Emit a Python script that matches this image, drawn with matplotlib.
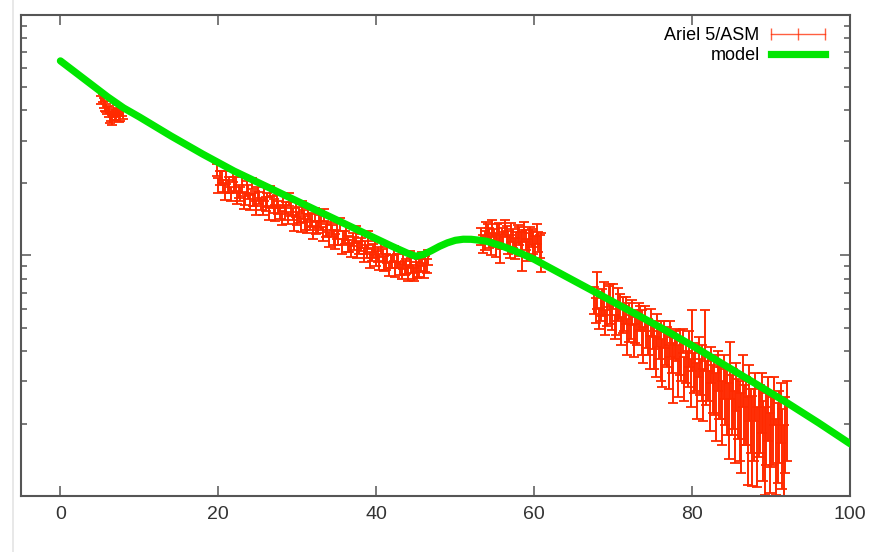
import numpy as np
import matplotlib.pyplot as plt
from matplotlib.ticker import MultipleLocator, LogLocator, NullFormatter
from matplotlib.lines import Line2D

plt.rcParams['font.family'] = ['Liberation Sans', 'DejaVu Sans']

RED = '#ff2a00'
GREEN = '#00e600'
AXIS = '#555555'

# model curve, log10 flux
model_x = [0, 1, 2, 4, 6, 8, 10, 14, 18, 22, 26, 30, 34, 38, 42, 44, 45, 46,
           47, 48, 49, 50, 51, 52, 53, 54, 56, 58, 60, 64, 68, 72, 76, 80,
           84, 88, 92, 96, 100]
model_log = [0.808, 0.783, 0.758, 0.708, 0.658, 0.6125, 0.575, 0.496, 0.421,
             0.350, 0.2875, 0.225, 0.1625, 0.100, 0.0375, 0.008, -0.004,
             0.004, 0.020, 0.0375, 0.052, 0.0625, 0.067, 0.0667, 0.063,
             0.0583, 0.0375, 0.0125, -0.0167, -0.0875, -0.158, -0.229, -0.300,
             -0.375, -0.454, -0.533, -0.6125, -0.696, -0.783]

# Ariel 5/ASM light curve: day, log10 flux, log10 half-error
asm_x = [
    5.2, 5.5, 5.8, 6.1, 6.4, 6.7, 7.0, 7.3, 7.6, 7.9,
    19.8, 20.2, 20.6, 21.0, 21.4, 21.8, 22.2, 22.6, 23.0, 23.4,
    23.8, 24.2, 24.6, 25.0, 25.4, 25.8, 26.2, 26.6, 27.0, 27.4,
    27.8, 28.2, 28.6, 29.0, 29.4, 29.8, 30.2, 30.6, 31.0, 31.4,
    31.8, 32.2, 32.6, 33.0, 33.4, 33.8, 34.2, 34.6, 35.0, 35.4,
    35.8, 36.2, 36.6, 37.0, 37.4, 37.8, 38.2, 38.6, 39.0, 39.4,
    39.8, 40.2, 40.6, 41.0, 41.4, 41.8, 42.2, 42.6, 43.0, 43.4,
    43.8, 44.2, 44.6, 45.0, 45.4, 45.8, 46.2, 46.6,
    53.3, 53.7, 54.1, 54.5, 54.9, 55.3, 55.7, 56.1, 56.5, 56.9,
    57.3, 57.7, 58.1, 58.5, 58.9, 59.3, 59.7, 60.1, 60.5, 60.9,
    67.6, 68.0, 68.4, 68.8, 69.2, 69.6, 70.0, 70.4, 70.8, 71.2,
    71.6, 72.0, 72.4, 72.8, 73.2, 73.6, 74.0, 74.4, 74.8, 75.2,
    75.6, 76.0, 76.4, 76.8, 77.2, 77.6, 78.0, 78.4, 78.8, 79.2,
    79.6, 80.0, 80.4, 80.8, 81.2, 81.6, 82.0, 82.4, 82.8, 83.2,
    83.6, 84.0, 84.4, 84.8, 85.2, 85.6, 86.0, 86.4, 86.8, 87.2,
    87.6, 88.0, 88.4, 88.8, 89.2, 89.6, 90.0, 90.4, 90.8, 91.2,
    91.6, 92.0,
]
asm_log = [
    0.646, 0.633, 0.6125, 0.596, 0.579, 0.592, 0.583, 0.596, 0.579, 0.5875,
    0.354, 0.322, 0.290, 0.324, 0.292, 0.328, 0.297, 0.266, 0.297, 0.236,
    0.264, 0.299, 0.238, 0.257, 0.214, 0.258, 0.230, 0.266, 0.205, 0.224,
    0.180, 0.228, 0.197, 0.233, 0.172, 0.191, 0.168, 0.199, 0.134, 0.170,
    0.147, 0.170, 0.117, 0.136, 0.168, 0.108, 0.130, 0.074, 0.101, 0.128,
    0.072, 0.095, 0.039, 0.066, 0.088, 0.032, 0.060, 0.033, 0.067, 0.003,
    0.030, 0.003, 0.034, -0.034, 0.001, -0.026, 0.006, -0.025, -0.056, -0.020,
    -0.047, -0.015, -0.070, -0.037, -0.053, -0.016, -0.035, -0.009,
    0.079, 0.0625, 0.096, 0.046, 0.071, 0.0875, 0.029, 0.0625, 0.079, 0.0375,
    0.071, 0.054, 0.079, 0.021, 0.0625, 0.046, 0.071, 0.029, 0.054, 0.0125,
    -0.1875, -0.146, -0.221, -0.179, -0.2375, -0.204, -0.171, -0.2625, -0.2125, -0.246,
    -0.229, -0.279, -0.2375, -0.296, -0.254, -0.321, -0.2625, -0.3375, -0.279, -0.371,
    -0.3125, -0.396, -0.329, -0.379, -0.346, -0.4875, -0.371, -0.404, -0.354, -0.446,
    -0.3875, -0.354, -0.4625, -0.421, -0.4875, -0.354, -0.5125, -0.454, -0.5375, -0.479,
    -0.571, -0.504, -0.604, -0.479, -0.596, -0.546, -0.6875, -0.521, -0.646, -0.571,
    -0.771, -0.5875, -0.6875, -0.6125, -0.8125, -0.6375, -0.729, -0.604, -0.779, -0.654,
    -0.854, -0.6875,
]
asm_err = [
    0.017, 0.020, 0.017, 0.021, 0.019, 0.017, 0.020, 0.018, 0.021, 0.019,
    0.025, 0.030, 0.025, 0.028, 0.032, 0.025, 0.030, 0.027, 0.033, 0.025,
    0.029, 0.024, 0.031, 0.027, 0.025, 0.033, 0.028, 0.024, 0.030, 0.026,
    0.027, 0.032, 0.025, 0.028, 0.024, 0.030, 0.033, 0.026, 0.029, 0.025,
    0.031, 0.027, 0.024, 0.032, 0.026, 0.029, 0.025, 0.030, 0.034, 0.026,
    0.028, 0.031, 0.025, 0.027, 0.033, 0.026, 0.030, 0.028, 0.035, 0.025,
    0.029, 0.032, 0.027, 0.030, 0.034, 0.026, 0.031, 0.029, 0.027, 0.035,
    0.030, 0.033, 0.028, 0.031, 0.036, 0.029, 0.034, 0.030,
    0.035, 0.040, 0.033, 0.045, 0.038, 0.042, 0.060, 0.036, 0.044, 0.048,
    0.039, 0.043, 0.037, 0.085, 0.041, 0.046, 0.038, 0.050, 0.042, 0.080,
    0.058, 0.075, 0.050, 0.067, 0.058, 0.083, 0.050, 0.067, 0.050, 0.075,
    0.058, 0.083, 0.050, 0.067, 0.058, 0.092, 0.050, 0.075, 0.058, 0.100,
    0.067, 0.125, 0.058, 0.083, 0.075, 0.125, 0.067, 0.092, 0.050, 0.083,
    0.075, 0.125, 0.100, 0.083, 0.117, 0.125, 0.092, 0.075, 0.125, 0.083,
    0.108, 0.092, 0.142, 0.117, 0.125, 0.100, 0.167, 0.108, 0.142, 0.117,
    0.1875, 0.100, 0.150, 0.125, 0.183, 0.133, 0.150, 0.100, 0.167, 0.125,
    0.150, 0.167,
]

# the samples falling between the ones above
asm_x2 = [
    5.35, 5.65, 5.95, 6.25, 6.55, 6.85, 7.15, 7.45, 7.75,
    20.0, 20.4, 20.8, 21.2, 21.6, 22.0, 22.4, 22.8, 23.2, 23.6,
    24.0, 24.4, 24.8, 25.2, 25.6, 26.0, 26.4, 26.8, 27.2, 27.6,
    28.0, 28.4, 28.8, 29.2, 29.6, 30.0, 30.4, 30.8, 31.2, 31.6,
    32.0, 32.4, 32.8, 33.2, 33.6, 34.0, 34.4, 34.8, 35.2, 35.6,
    36.0, 36.4, 36.8, 37.2, 37.6, 38.0, 38.4, 38.8, 39.2, 39.6,
    40.0, 40.4, 40.8, 41.2, 41.6, 42.0, 42.4, 42.8, 43.2, 43.6,
    44.0, 44.4, 44.8, 45.2, 45.6, 46.0, 46.4,
    53.5, 53.9, 54.3, 54.7, 55.1, 55.5, 55.9, 56.3, 56.7, 57.1,
    57.5, 57.9, 58.3, 58.7, 59.1, 59.5, 59.9, 60.3, 60.7,
    67.8, 68.2, 68.6, 69.0, 69.4, 69.8, 70.2, 70.6, 71.0, 71.4,
    71.8, 72.2, 72.6, 73.0, 73.4, 73.8, 74.2, 74.6, 75.0, 75.4,
    75.8, 76.2, 76.6, 77.0, 77.4, 77.8, 78.2, 78.6, 79.0, 79.4,
    79.8, 80.2, 80.6, 81.0, 81.4, 81.8, 82.2, 82.6, 83.0, 83.4,
    83.8, 84.2, 84.6, 85.0, 85.4, 85.8, 86.2, 86.6, 87.0, 87.4,
    87.8, 88.2, 88.6, 89.0, 89.4, 89.8, 90.2, 90.6, 91.0, 91.4,
    91.8,
]
asm_log2 = [
    0.654, 0.621, 0.604, 0.571, 0.5625, 0.579, 0.604, 0.571, 0.596,
    0.291, 0.326, 0.261, 0.287, 0.255, 0.292, 0.240, 0.255, 0.219, 0.283,
    0.219, 0.234, 0.198, 0.2375, 0.198, 0.2125, 0.177, 0.221, 0.177, 0.2005,
    0.156, 0.179, 0.156, 0.192, 0.135, 0.154, 0.127, 0.163, 0.123, 0.1375,
    0.094, 0.113, 0.1435, 0.0875, 0.102, 0.067, 0.102, 0.058, 0.073, 0.0375,
    0.073, 0.046, 0.023, 0.050, 0.0185, 0.046, 0.002, 0.017, -0.019, 0.017,
    -0.014, -0.033, 0.002, -0.029, -0.056, -0.025, -0.060, -0.024, -0.0675, -0.052,
    -0.075, -0.043, -0.081, -0.061, -0.037, -0.063, -0.044,
    0.046, 0.104, 0.071, 0.1125, 0.0375, 0.096, 0.071, 0.1125, 0.054, 0.096,
    0.029, 0.0875, 0.046, 0.096, 0.021, 0.079, 0.054, 0.0875, 0.0375,
    -0.229, -0.2625, -0.196, -0.279, -0.171, -0.254, -0.296, -0.204, -0.3125, -0.2625,
    -0.3375, -0.296, -0.354, -0.3125, -0.2625, -0.371, -0.329, -0.404, -0.3375, -0.421,
    -0.371, -0.446, -0.3875, -0.4625, -0.4125, -0.371, -0.479, -0.4375, -0.5125, -0.471,
    -0.529, -0.4875, -0.5625, -0.504, -0.579, -0.529, -0.604, -0.554, -0.629, -0.571,
    -0.654, -0.5875, -0.6875, -0.621, -0.7125, -0.6375, -0.7375, -0.6625, -0.771, -0.6875,
    -0.704, -0.796, -0.679, -0.771, -0.721, -0.821, -0.729, -0.8375, -0.7125, -0.804,
    -0.746,
]
asm_err2 = [
    0.018, 0.020, 0.017, 0.019, 0.021, 0.018, 0.020, 0.017, 0.019,
    0.030, 0.026, 0.031, 0.027, 0.029, 0.033, 0.025, 0.030, 0.028, 0.026,
    0.032, 0.027, 0.029, 0.025, 0.031, 0.028, 0.030, 0.026, 0.033, 0.027,
    0.029, 0.031, 0.026, 0.028, 0.032, 0.027, 0.030, 0.025, 0.029, 0.033,
    0.028, 0.026, 0.031, 0.029, 0.027, 0.032, 0.026, 0.030, 0.028, 0.031,
    0.027, 0.033, 0.029, 0.026, 0.031, 0.028, 0.030, 0.027, 0.032, 0.029,
    0.031, 0.028, 0.026, 0.033, 0.030, 0.027, 0.032, 0.029, 0.031, 0.028,
    0.033, 0.030, 0.027, 0.032, 0.029, 0.031, 0.028,
    0.038, 0.034, 0.041, 0.036, 0.046, 0.039, 0.043, 0.035, 0.048, 0.040,
    0.044, 0.037, 0.050, 0.042, 0.045, 0.038, 0.047, 0.041, 0.049,
    0.050, 0.042, 0.058, 0.050, 0.042, 0.058, 0.050, 0.067, 0.058, 0.050,
    0.075, 0.050, 0.067, 0.058, 0.050, 0.075, 0.058, 0.067, 0.050, 0.083,
    0.058, 0.100, 0.067, 0.092, 0.075, 0.058, 0.108, 0.083, 0.092, 0.075,
    0.100, 0.083, 0.117, 0.075, 0.108, 0.092, 0.125, 0.100, 0.142, 0.108,
    0.133, 0.117, 0.158, 0.125, 0.150, 0.125, 0.167, 0.125, 0.183, 0.133,
    0.150, 0.167, 0.142, 0.167, 0.150, 0.167, 0.142, 0.158, 0.150, 0.167,
    0.158,
]

fig = plt.figure(figsize=(8.72, 5.52), dpi=100)
ax = fig.add_axes([0.024, 0.1014, 0.951, 0.872])

day = asm_x + asm_x2
lg = np.array(asm_log + asm_log2)
er = np.array(asm_err + asm_err2)
flux = 10 ** lg
lo = 10 ** (lg - er)
hi = 10 ** (lg + er)
ax.errorbar(day, flux, yerr=[flux - lo, hi - flux], fmt='none',
            ecolor=RED, elinewidth=1.4, capsize=3.5, capthick=1.3, zorder=2)
ax.plot(model_x, 10 ** np.array(model_log), color=GREEN, lw=5.2,
        solid_capstyle='round', solid_joinstyle='round', zorder=3)

ax.set_yscale('log')
ax.set_xlim(-5, 100)
ax.set_ylim(0.1, 10)
ax.xaxis.set_major_locator(MultipleLocator(20))
ax.yaxis.set_major_locator(LogLocator(base=10))
ax.yaxis.set_minor_locator(LogLocator(base=10, subs=np.arange(2, 10)))
ax.yaxis.set_major_formatter(NullFormatter())
ax.yaxis.set_minor_formatter(NullFormatter())

for sp in ax.spines.values():
    sp.set_color(AXIS)
    sp.set_linewidth(1.5)
ax.tick_params(which='both', direction='in', top=True, right=True,
               color=AXIS, width=1.1)
ax.tick_params(which='major', length=7, labelsize=14, labelcolor='#333333', pad=7)
ax.tick_params(which='minor', length=4)

handles = [
    Line2D([], [], color=RED, lw=1.0, marker='|', markersize=9,
           markeredgewidth=1.0, alpha=0.75),
    Line2D([], [], color=GREEN, lw=5.2),
]
ax.legend(handles, ['Ariel 5/ASM', 'model'], loc='upper right',
          frameon=False, markerfirst=False, numpoints=3, fontsize=13,
          handlelength=3.6, handletextpad=0.3, labelspacing=0.15,
          borderaxespad=0.3, bbox_to_anchor=(0.991, 1.0))

# faint border left of the panel
fig.add_artist(Line2D([0.015, 0.015], [0.0, 1.0], color='#e4e4e4', lw=1.2))

fig.savefig('out.png', dpi=100)
